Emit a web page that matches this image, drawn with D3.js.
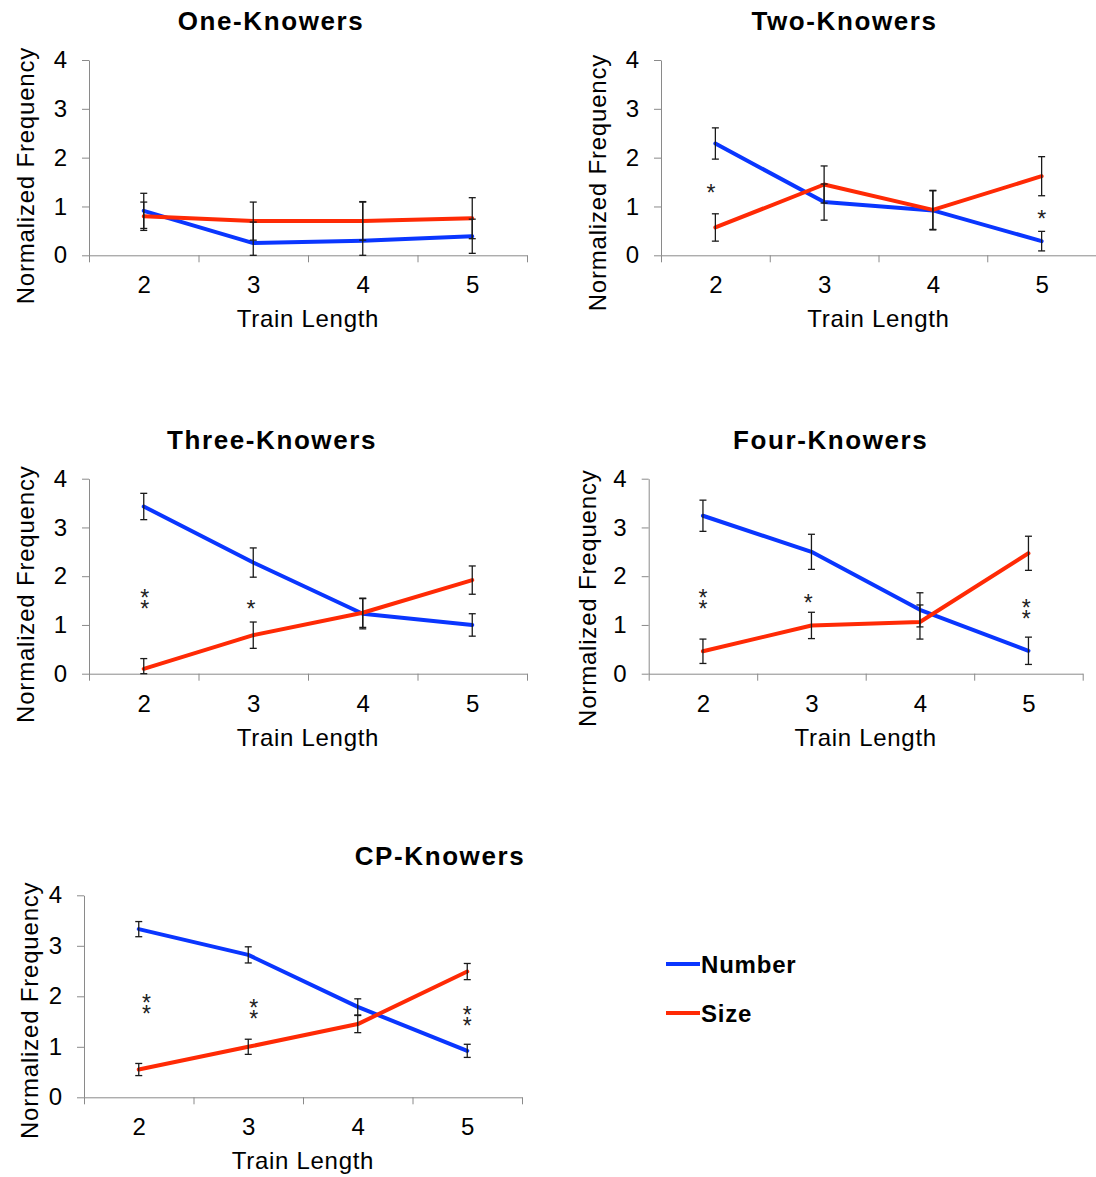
<!DOCTYPE html>
<html>
<head>
<meta charset="utf-8">
<script src="https://cdn.jsdelivr.net/npm/d3@7"></script>
<style>
  html, body { margin: 0; padding: 0; background: #fff; }
  svg { display: block; font-family: "Liberation Sans", Arial, sans-serif; }
</style>
</head>
<body>
<script>
// ---- data ----
const categories = [2, 3, 4, 5];
const yTicks = [0, 1, 2, 3, 4];
const panelTitles = ["One-Knowers", "Two-Knowers", "Three-Knowers", "Four-Knowers", "CP-Knowers"];
const seriesNames = ["Number", "Size"];

const numberMeans = [
  [0.91, 0.25, 0.30, 0.39],
  [2.29, 1.09, 0.92, 0.29],
  [3.43, 2.28, 1.23, 1.00],
  [3.24, 2.50, 1.31, 0.47],
  [3.33, 2.82, 1.79, 0.92]
];
const numberErr = [
  [0.36, 0.43, 0.80, 0.35],
  [0.32, 0.37, 0.40, 0.20],
  [0.27, 0.30, 0.31, 0.23],
  [0.32, 0.36, 0.35, 0.28],
  [0.15, 0.16, 0.16, 0.13]
];
const sizeMeans = [
  [0.80, 0.70, 0.70, 0.76],
  [0.57, 1.45, 0.93, 1.62],
  [0.10, 0.79, 1.25, 1.92],
  [0.46, 0.99, 1.06, 2.47],
  [0.55, 1.00, 1.45, 2.49]
];
const sizeErr = [
  [0.29, 0.39, 0.39, 0.42],
  [0.28, 0.38, 0.40, 0.40],
  [0.21, 0.27, 0.30, 0.29],
  [0.25, 0.27, 0.35, 0.35],
  [0.12, 0.15, 0.17, 0.16]
];
// significance markers: position (train length), height, number of asterisks
const starMarks = [
  [],
  [{ x: 1.96, v: 1.38, n: 1 }, { x: 5.0, v: 0.84, n: 1 }],
  [{ x: 2.01, v: 1.55, n: 2 }, { x: 2.98, v: 1.44, n: 1 }],
  [{ x: 2.0, v: 1.55, n: 2 }, { x: 2.97, v: 1.56, n: 1 }, { x: 4.98, v: 1.33, n: 2 }],
  [{ x: 2.07, v: 1.86, n: 2 }, { x: 3.05, v: 1.75, n: 2 }, { x: 5.0, v: 1.61, n: 2 }]
];

// ---- layout ----
const W = 1096, H = 1177;
const colors = { Number: "#0a36ff", Size: "#ff2a05" };
const axisGray = "#8a8a8a";
const panelBoxes = [
  { left: 89,    right: 527,    top: 60,    bottom: 255.3,  titleDx: -37, yTitleDx: -64, yTitleDy: 18 },
  { left: 661,   right: 1096,   top: 60,    bottom: 255.3,  titleDx: -34, yTitleDx: -64, yTitleDy: 25 },
  { left: 89,    right: 527,    top: 478.7, bottom: 673.7,  titleDx: -36, yTitleDx: -64, yTitleDy: 18 },
  { left: 648.7, right: 1082.7, top: 478.7, bottom: 673.7,  titleDx: -35, yTitleDx: -61, yTitleDy: 22 },
  { left: 84,    right: 522,    top: 895.3, bottom: 1097.3, titleDx: 137, yTitleDx: -55, yTitleDy: 14 }
];

const svg = d3.select("body").append("svg")
  .attr("width", W).attr("height", H);

panelTitles.forEach((title, i) => {
  const B = panelBoxes[i];
  const x = d3.scaleLinear().domain([1.5, 5.5]).range([B.left, B.right]);
  const y = d3.scaleLinear().domain([0, 4]).range([B.bottom, B.top]);
  const g = svg.append("g").attr("class", "panel");

  // y axis
  const yAxis = g.append("g")
    .attr("transform", `translate(${B.left},0)`)
    .call(d3.axisLeft(y).tickValues(yTicks).tickSize(7).tickPadding(15).tickSizeOuter(0).tickFormat(d3.format("d")));
  yAxis.select(".domain").attr("stroke", axisGray);
  yAxis.selectAll(".tick line").attr("stroke", axisGray);
  yAxis.selectAll(".tick text").attr("fill", "#000").style("font-size", "24px");

  // x axis: boundary ticks between categories
  const boundaries = d3.range(1.5, 5.6, 1);
  const xAxis = g.append("g")
    .attr("transform", `translate(0,${B.bottom})`)
    .call(d3.axisBottom(x).tickValues(boundaries).tickSize(7).tickSizeOuter(0).tickFormat(""));
  xAxis.select(".domain").attr("stroke", axisGray);
  xAxis.selectAll(".tick line").attr("stroke", axisGray);

  // x category labels
  const xLab = g.append("g")
    .attr("transform", `translate(0,${B.bottom})`)
    .call(d3.axisBottom(x).tickValues(categories).tickSize(0).tickPadding(21).tickFormat(d3.format("d")));
  xLab.select(".domain").remove();
  xLab.selectAll(".tick text").attr("fill", "#000").style("font-size", "24px");

  // axis titles
  g.append("text")
    .attr("x", (B.left + B.right) / 2)
    .attr("y", B.bottom + 72)
    .attr("text-anchor", "middle")
    .style("font-size", "24px")
    .style("letter-spacing", "0.7px")
    .text("Train Length");

  const cy = (B.top + B.bottom) / 2 + B.yTitleDy;
  g.append("text")
    .attr("transform", `translate(${B.left + B.yTitleDx},${cy}) rotate(-90)`)
    .attr("text-anchor", "middle")
    .attr("dominant-baseline", "central")
    .style("font-size", "24px")
    .style("letter-spacing", "0.8px")
    .text("Normalized Frequency");

  // panel title
  g.append("text")
    .attr("x", (B.left + B.right) / 2 + B.titleDx)
    .attr("y", B.top - 30)
    .attr("text-anchor", "middle")
    .style("font-size", "26px")
    .style("font-weight", "bold")
    .style("letter-spacing", "1.6px")
    .text(title);

  // series
  const series = [
    { name: "Number", means: numberMeans[i], errs: numberErr[i] },
    { name: "Size", means: sizeMeans[i], errs: sizeErr[i] }
  ];
  const line = d3.line().x((d, j) => x(categories[j])).y(d => y(d));

  series.forEach(s => {
    g.append("path")
      .datum(s.means)
      .attr("d", line)
      .attr("fill", "none")
      .attr("stroke", colors[s.name])
      .attr("stroke-width", 4)
      .attr("stroke-linejoin", "round")
      .attr("stroke-linecap", "round");
  });

  // error bars
  series.forEach(s => {
    const eb = g.append("g").attr("stroke", "#1a1a1a").attr("stroke-width", 1.3);
    s.means.forEach((m, j) => {
      const cx = x(categories[j]);
      const lo = Math.max(0, m - s.errs[j]);
      const hi = Math.min(4, m + s.errs[j]);
      eb.append("line").attr("x1", cx).attr("x2", cx).attr("y1", y(lo)).attr("y2", y(hi));
      eb.append("line").attr("x1", cx - 3.5).attr("x2", cx + 3.5).attr("y1", y(hi)).attr("y2", y(hi));
      eb.append("line").attr("x1", cx - 3.5).attr("x2", cx + 3.5).attr("y1", y(lo)).attr("y2", y(lo));
    });
  });

  // significance asterisks (stacked ones share a single text element)
  starMarks[i].forEach(m => {
    const t = g.append("text")
      .attr("text-anchor", "middle")
      .style("font-size", "23px")
      .attr("fill", "#222");
    for (let k = 0; k < m.n; k++) {
      const off = k * 11 - (m.n - 1) * 5.5;
      t.append("tspan")
        .attr("x", x(m.x))
        .attr("y", y(m.v) + off + 13)
        .text("*");
    }
  });
});

// legend
const legend = svg.append("g").attr("transform", "translate(666,964)");
seriesNames.forEach((name, i) => {
  const row = legend.append("g").attr("transform", `translate(0,${i * 49})`);
  row.append("line")
    .attr("x1", 0).attr("x2", 34).attr("y1", 0).attr("y2", 0)
    .attr("stroke", colors[name]).attr("stroke-width", 4);
  row.append("text")
    .attr("x", 35).attr("y", 0)
    .attr("dominant-baseline", "central")
    .style("font-size", "24px")
    .style("font-weight", "bold")
    .style("letter-spacing", "0.8px")
    .text(name);
});
</script>
</body>
</html>
